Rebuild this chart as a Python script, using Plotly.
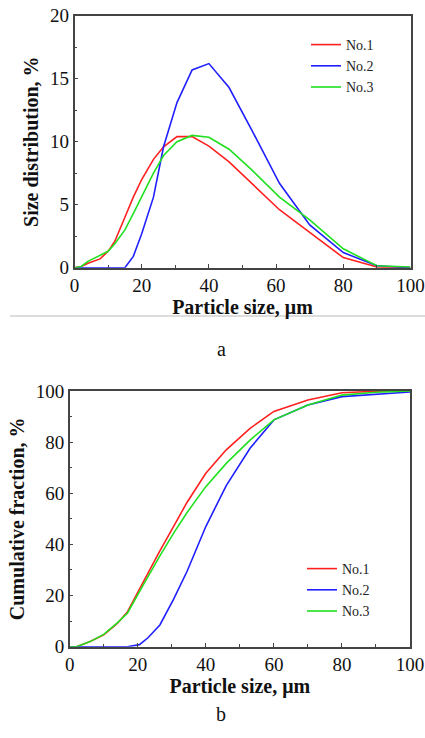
import plotly.graph_objects as go

# ---- Data: panel a (size distribution) ----
size_a = [0, 2, 4, 7.6, 10, 12, 15, 17.5, 20, 23.5, 26.5, 30.5, 35, 40, 46, 53, 61, 70, 80, 90, 100]
dist_no1 = [0, 0.1, 0.35, 0.7, 1.3, 2.1, 4.0, 5.6, 7.0, 8.6, 9.6, 10.4, 10.4, 9.65, 8.4, 6.6, 4.6, 2.8, 0.8, 0.05, 0]
dist_no2 = [0, 0, 0, 0, 0, 0, 0, 0.9, 2.7, 5.6, 9.6, 13.1, 15.7, 16.2, 14.3, 10.8, 6.7, 3.4, 1.2, 0.15, 0]
dist_no3 = [0, 0.1, 0.5, 1.0, 1.3, 1.9, 3.0, 4.3, 5.6, 7.5, 8.9, 10.0, 10.5, 10.35, 9.4, 7.7, 5.6, 3.8, 1.5, 0.15, 0.05]

# ---- Data: panel b (cumulative fraction) ----
size_b = [0, 2, 6, 10, 14, 17, 20.5, 23, 26.5, 30.5, 34.5, 40, 46, 53, 60, 70, 80, 90, 100]
cum_no1 = [0, 0, 2, 4.6, 9.1, 13.7, 22.5, 29, 37.5, 47, 56.5, 67.8, 77, 85.4, 92, 96.5, 99.3, 99.9, 100]
cum_no2 = [0, 0, 0, 0, 0, 0, 0.8, 3.5, 8.5, 18.5, 29.5, 47, 63, 77.6, 88.7, 94.5, 97.8, 98.8, 99.6]
cum_no3 = [0, 0, 2, 4.8, 9.3, 13.2, 21.5, 27.5, 35.5, 44.3, 52.5, 62.6, 71.7, 80.8, 88.7, 94.5, 98.4, 99.5, 100]

names = ["No.1", "No.2", "No.3"]
colors = ["#ff2020", "#2020ff", "#20e020"]

W, H = 425, 738
FONT = "Liberation Serif"

fig = go.Figure()
for n, c, y in zip(names, colors, [dist_no1, dist_no2, dist_no3]):
    fig.add_trace(go.Scatter(x=size_a, y=y, mode="lines", name=n,
                             line=dict(color=c, width=1.6),
                             xaxis="x", yaxis="y", legend="legend"))
for n, c, y in zip(names, colors, [cum_no1, cum_no2, cum_no3]):
    fig.add_trace(go.Scatter(x=size_b, y=y, mode="lines", name=n,
                             line=dict(color=c, width=1.6),
                             xaxis="x2", yaxis="y2", legend="legend2"))

def px_x(p):
    return p / W

def px_y(p):
    return 1 - p / H

axis_common = dict(
    showline=True, mirror=True, linecolor="#444444", linewidth=1.5,
    ticks="inside", ticklen=4, tickwidth=1, tickcolor="#444444",
    showgrid=False, zeroline=False, automargin=False,
    tickfont=dict(family=FONT, size=19, color="#111111"),
    minor=dict(ticks="inside", ticklen=2.5, tickwidth=1, tickcolor="#444444"),
)

title_font = dict(family=FONT, size=20, color="#111111")
legend_font = dict(family=FONT, size=14, color="#222222")

fig.update_layout(
    width=W, height=H,
    margin=dict(l=0, r=0, t=0, b=0),
    paper_bgcolor="white", plot_bgcolor="white",
    template="none",
    xaxis=dict(axis_common, domain=[px_x(74.5), px_x(410.5)], range=[0, 100],
               dtick=20, minor_dtick=10, anchor="y",
               title=dict(text="<b>Particle size, μm</b>", font=title_font, standoff=2)),
    yaxis=dict(axis_common, domain=[px_y(267.7), px_y(15.7)], range=[0, 20],
               dtick=5, minor_dtick=2.5, anchor="x",
               title=dict(text="<b>Size distribution, %</b>", font=title_font, standoff=6)),
    xaxis2=dict(axis_common, domain=[px_x(69.7), px_x(410)], range=[0, 100],
                dtick=20, minor_dtick=10, anchor="y2",
                title=dict(text="<b>Particle size, μm</b>", font=title_font, standoff=3)),
    yaxis2=dict(axis_common, domain=[px_y(646.7), px_y(391)], range=[0, 100],
                dtick=20, minor_dtick=10, anchor="x2",
                title=dict(text="<b>Cumulative fraction, %</b>", font=title_font, standoff=6)),
    legend=dict(x=px_x(306), y=px_y(29), xanchor="left", yanchor="top",
                bgcolor="rgba(0,0,0,0)", font=legend_font, tracegroupgap=0),
    legend2=dict(x=px_x(302), y=px_y(553), xanchor="left", yanchor="top",
                 bgcolor="rgba(0,0,0,0)", font=legend_font, tracegroupgap=0),
    showlegend=True,
)

fig.add_annotation(text="a", x=px_x(221.5), y=px_y(349), xref="paper", yref="paper",
                   showarrow=False, font=dict(family=FONT, size=20, color="#111111"))
fig.add_annotation(text="b", x=px_x(221), y=px_y(727), xref="paper", yref="paper",
                   showarrow=False, font=dict(family=FONT, size=20, color="#111111"))
fig.add_shape(type="line", xref="paper", yref="paper",
              x0=px_x(10), x1=px_x(425), y0=px_y(316), y1=px_y(316),
              line=dict(color="#bbbbbb", width=1))

fig.write_html("out.html")
